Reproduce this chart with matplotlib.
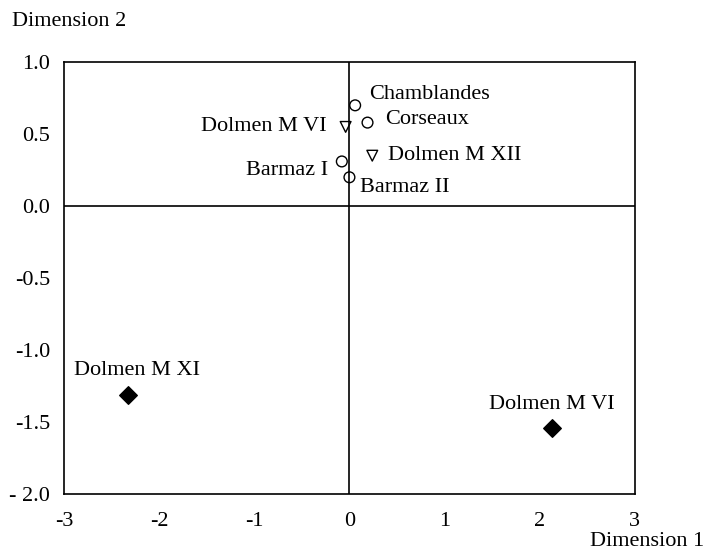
import matplotlib.pyplot as plt

plt.rcParams['font.family'] = ['Liberation Serif', 'DejaVu Serif']

# 点的数据
names_o = ['Chamblandes', 'Corseaux', 'Barmaz I', 'Barmaz II']
x_o = [0.06, 0.19, -0.08, 0.00]
y_o = [0.70, 0.58, 0.31, 0.20]

names_v = ['Dolmen M VI', 'Dolmen M XII']
x_v = [-0.04, 0.24]
y_v = [0.55, 0.35]

names_d = ['Dolmen M XI', 'Dolmen M VI']
x_d = [-2.33, 2.13]
y_d = [-1.31, -1.54]

xticks = [-3, -2, -1, 0, 1, 2, 3]
yticks = [1.0, 0.5, 0.0, -0.5, -1.0, -1.5, -2.0]
ytick_labels = ['1.0', '0.5', '0.0', '-0.5', '-1.0', '-1.5', '- 2.0']

fs = 16

fig = plt.figure(figsize=(7.07, 5.5), dpi=100)
ax = fig.add_axes([0.0905, 0.102, 0.8075, 0.785])

ax.axhline(0, color='black', lw=1.2)
ax.axvline(0, color='black', lw=1.2)

ax.scatter(x_o, y_o, s=60, marker='o', facecolors='none', edgecolors='black', linewidths=1.0, zorder=3)
ax.scatter(x_v, y_v, s=60, marker='v', facecolors='none', edgecolors='black', linewidths=1.0, zorder=3)
ax.scatter(x_d, y_d, s=80, marker='D', color='black', zorder=3)

# 标签偏移（像素）
offs_o = [(14, 11, 'left'), (18, 3, 'left'), (-14, -9, 'right'), (11, -10, 'left')]
for n, x, y, (dx, dy, ha) in zip(names_o, x_o, y_o, offs_o):
    ax.annotate(n, (x, y), xytext=(dx, dy), textcoords='offset pixels',
                ha=ha, va='center', fontsize=fs)
offs_v = [(-19, 0, 'right'), (16, 0, 'left')]
for n, x, y, (dx, dy, ha) in zip(names_v, x_v, y_v, offs_v):
    ax.annotate(n, (x, y), xytext=(dx, dy), textcoords='offset pixels',
                ha=ha, va='center', fontsize=fs)
offs_d = [(9, 24, 'center'), (0, 23, 'center')]
for n, x, y, (dx, dy, ha) in zip(names_d, x_d, y_d, offs_d):
    ax.annotate(n, (x, y), xytext=(dx, dy), textcoords='offset pixels',
                ha=ha, va='center', fontsize=fs)

ax.set_xlim(-3, 3)
ax.set_ylim(-2, 1)
ax.set_xticks(xticks)
ax.set_xticklabels([str(t) for t in xticks])
ax.set_yticks(yticks)
ax.set_yticklabels(ytick_labels)
ax.tick_params(length=0, labelsize=fs)
ax.tick_params(axis='x', pad=13)
ax.tick_params(axis='y', pad=10)
for s in ax.spines.values():
    s.set_linewidth(1.2)

fig.text(12 / 707, 1 - 21 / 550, 'Dimension 2', ha='left', va='center', fontsize=fs)
fig.text(704 / 707, 1 - 541 / 550, 'Dimension 1', ha='right', va='center', fontsize=fs)

fig.savefig('out.png', dpi=100)
